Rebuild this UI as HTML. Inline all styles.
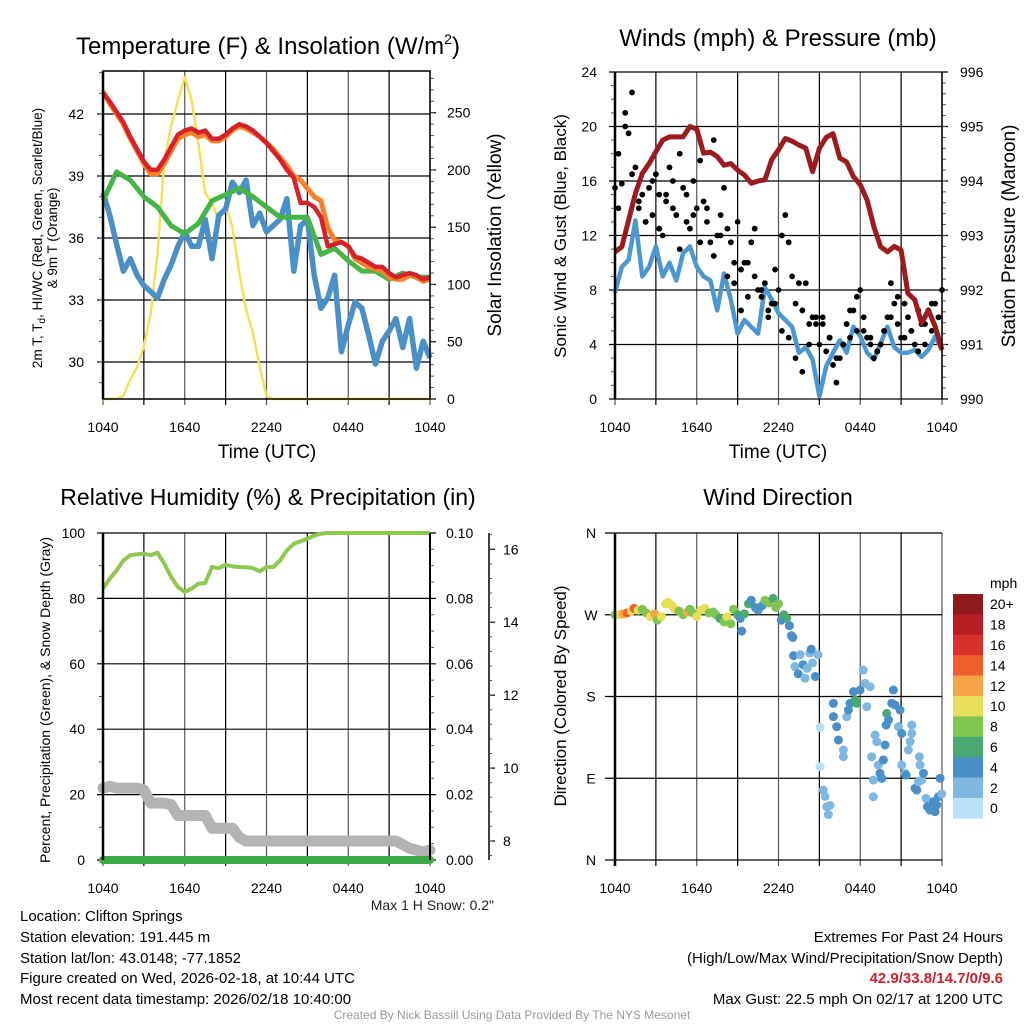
<!DOCTYPE html>
<html><head><meta charset="utf-8">
<style>
html,body{margin:0;padding:0;background:#fff;}
svg{display:block;font-family:"Liberation Sans",Arial,sans-serif;}
</style></head>
<body>
<svg id="chart" width="1024" height="1024" viewBox="0 0 1024 1024" xmlns="http://www.w3.org/2000/svg">
<rect width="1024" height="1024" fill="#fff"/>
<g id="static" font-size="14" fill="#000">
<text x="268" y="54" font-size="24" text-anchor="middle">Temperature (F) &amp; Insolation (W/m<tspan font-size="14" dy="-10">2</tspan><tspan dy="10">)</tspan></text>
<text x="778" y="46" font-size="24" text-anchor="middle">Winds (mph) &amp; Pressure (mb)</text>
<text x="268" y="505" font-size="23" text-anchor="middle">Relative Humidity (%) &amp; Precipitation (in)</text>
<text x="778" y="505" font-size="23" text-anchor="middle">Wind Direction</text>
<text x="267" y="458" font-size="19" text-anchor="middle">Time (UTC)</text>
<text x="778" y="458" font-size="19" text-anchor="middle">Time (UTC)</text>
<text transform="translate(42,238) rotate(-90)" font-size="13.5" text-anchor="middle">2m T, T<tspan font-size="10" dy="3">d</tspan><tspan dy="-3">, HI/WC (Red, Green, Scarlet/Blue)</tspan></text>
<text transform="translate(57,238) rotate(-90)" font-size="13.5" text-anchor="middle">&amp; 9m T (Orange)</text>
<text transform="translate(501,235) rotate(-90)" font-size="19" text-anchor="middle">Solar Insolation (Yellow)</text>
<text transform="translate(566,236) rotate(-90)" font-size="17" text-anchor="middle">Sonic Wind &amp; Gust (Blue, Black)</text>
<text transform="translate(1015,236) rotate(-90)" font-size="19" text-anchor="middle">Station Pressure (Maroon)</text>
<text transform="translate(50,700) rotate(-90)" font-size="14" text-anchor="middle">Percent, Precipitation (Green), &amp; Snow Depth (Gray)</text>
<text transform="translate(566,696) rotate(-90)" font-size="17" text-anchor="middle">Direction (Colored By Speed)</text>
<text x="494" y="910" font-size="14" text-anchor="end" fill="#222">Max 1 H Snow: 0.2"</text>
<text x="20" y="921" font-size="15">Location: Clifton Springs</text>
<text x="20" y="942" font-size="15">Station elevation: 191.445 m</text>
<text x="20" y="963" font-size="15">Station lat/lon: 43.0148; -77.1852</text>
<text x="20" y="983" font-size="15">Figure created on Wed, 2026-02-18, at 10:44 UTC</text>
<text x="20" y="1004" font-size="15">Most recent data timestamp: 2026/02/18 10:40:00</text>
<text x="1003" y="942" font-size="15" text-anchor="end">Extremes For Past 24 Hours</text>
<text x="1003" y="963" font-size="15" text-anchor="end">(High/Low/Max Wind/Precipitation/Snow Depth)</text>
<text x="1003" y="983" font-size="15" font-weight="bold" fill="#d0212a" text-anchor="end">42.9/33.8/14.7/0/9.6</text>
<text x="1003" y="1004" font-size="15" text-anchor="end">Max Gust: 22.5 mph On 02/17 at 1200 UTC</text>
<text x="512" y="1019" font-size="12" fill="#999" text-anchor="middle">Created By Nick Bassill Using Data Provided By The NYS Mesonet</text>
</g>
</svg>
<script>
// ---------- data ----------
const timeLabels = ["1040","1640","2240","0440","1040"];
const tempTicks = [30,33,36,39,42];
const insolTicks = [0,50,100,150,200,250];
const tempRed = [43.0,42.6,42.1,41.6,40.9,40.3,39.7,39.3,39.3,39.8,40.4,41.0,41.2,41.3,41.1,41.2,40.8,40.8,41.0,41.3,41.5,41.4,41.2,40.9,40.6,40.2,39.8,39.3,38.9,37.7,37.7,37.5,37.0,35.6,35.7,35.8,35.6,35.1,35.0,34.8,34.6,34.6,34.3,34.1,34.2,34.3,34.2,34.0,34.1];
const tempOrange = [43.1,42.5,42.0,41.5,40.8,40.2,39.6,39.1,39.1,39.6,40.2,40.8,41.0,41.1,40.9,41.0,40.7,40.7,40.9,41.2,41.4,41.3,41.1,40.9,40.6,40.3,39.9,39.5,39.0,38.8,38.4,38.0,37.8,36.5,35.9,35.8,35.6,35.0,34.8,34.6,34.5,34.4,34.1,34.0,34.0,34.2,34.1,33.9,34.0];
const tempGreen = [37.8,39.2,38.8,38.0,37.5,36.6,36.2,36.7,37.8,38.1,38.4,38.0,37.5,37.0,37.0,37.0,35.2,35.5,34.9,34.4,34.4,34.0,34.3,34.1,34.1];
const tempBlue = [38.2,37.1,35.7,34.4,35.0,34.2,33.7,33.4,33.1,34.0,34.7,35.6,36.3,35.6,35.6,36.9,35.0,37.1,37.4,38.7,38.2,38.8,36.6,37.2,36.3,36.6,36.9,37.9,34.4,36.6,36.9,34.2,32.6,33.1,34.2,30.5,31.8,32.9,32.6,31.3,29.9,31.0,31.5,32.1,30.7,32.1,29.7,31.0,30.2];
const insolation = [0,0,0,3,17,28,46,75,127,208,238,261,281,261,223,180,171,156,170,150,110,78,58,28,3,0,0,0,0,0,0,0,0,0,0,0,0,0,0,0,0,0,0,0,0,0,0,0,0];

const windTicks = [0,4,8,12,16,20,24];
const presTicks = [990,991,992,993,994,995,996];
const pressure = [992.70,992.79,993.28,993.77,994.14,994.32,994.54,994.75,994.81,994.81,994.81,995.0,994.95,994.51,994.53,994.45,994.29,994.32,994.20,994.11,993.96,994.0,994.02,994.39,994.57,994.78,994.73,994.66,994.6,994.17,994.6,994.8,994.87,994.42,994.35,994.08,993.93,993.65,993.16,992.79,992.7,992.8,992.73,991.94,991.82,991.39,991.63,991.33,990.9];
const wind = [7.8,9.7,10.2,13.1,9.0,9.7,11.2,9.0,10.0,8.7,10.7,11.2,9.7,9.0,8.7,6.5,9.2,7.3,4.8,5.8,5.3,4.8,8.2,7.3,6.3,5.8,5.3,3.4,3.8,2.9,0.2,2.4,3.4,4.3,3.4,5.3,4.6,3.4,2.9,4.1,5.3,3.8,3.4,3.4,3.6,3.1,3.6,4.6,3.6];
const gust = [15.5,14.0,15.8,21.0,19.5,22.5,17.0,14.5,15.0,13.0,15.5,13.5,16.5,15.0,12.0,14.5,17.0,16.0,13.5,18.0,15.5,13.0,12.5,16.0,14.0,17.5,14.5,13.0,11.5,19.0,12.0,13.5,15.5,12.5,11.5,10.0,13.0,9.5,10.0,7.5,11.5,9.0,8.0,7.5,8.5,6.5,7.0,9.5,8.0,12.0,13.5,11.5,9.0,7.0,8.5,6.5,8.5,5.5,6.0,5.5,4.0,6.0,3.5,4.5,2.5,1.2,3.0,4.0,5.5,4.5,6.5,5.0,8.0,6.0,4.5,4.0,3.0,3.5,4.0,5.0,6.0,8.5,7.0,5.5,4.5,7.0,6.0,5.0,4.0,3.5,5.5,4.0,6.5,5.0,7.0,6.0,8.0];
const gustB = [18.0,20.0,16.5,14.0,13.0,16.0,12.5,15.0,14.0,11.0,15.0,13.5,11.5,14.0,10.5,12.0,9.0,8.5,6.5,10.0,12.5,8.0,6.0,7.0,5.0,4.5,3.0,2.0,4.0,6.0,5.5,4.5,3.0,4.0,6.5,7.5,5.0,4.5,3.5,5.0,6.0,7.5,4.5,5.0,6.5,5.5,7.0,6.0];

const rhTicks = [0,20,40,60,80,100];
const precipTicks = ["0.00","0.02","0.04","0.06","0.08","0.10"];
const snowTicks = [8,10,12,14,16];
const rh = [83,86,88.6,91.6,93.2,93.5,93.7,93.2,94,90.6,86.6,83.5,82,83,84.5,84.7,89.6,89.2,90.3,89.8,89.6,89.5,89.3,88.3,89.6,89.6,91.6,94.7,96.7,97.5,98.3,99.2,99.8,100,100,100,100,100,100,100,100,100,100,100,100,100,100,100,100];
const precip = [0,0,0,0,0,0,0,0,0,0,0,0,0,0,0,0,0,0,0,0,0,0,0,0,0];
const snow = [9.45,9.5,9.45,9.45,9.45,9.45,9.4,9.04,9.04,9.04,9.0,8.7,8.7,8.7,8.7,8.7,8.35,8.35,8.35,8.35,8.1,8.0,8.0,8.0,8.0,8.0,8.0,8.0,8.0,8.0,8.0,8.0,8.0,8.0,8.0,8.0,8.0,8.0,8.0,8.0,8.0,8.0,8.0,8.0,7.9,7.8,7.75,7.7,7.75];

const dirLabels = ["N","E","S","W","N"];
const speedLabels = ["0","2","4","6","8","10","12","14","16","18","20+"];
const dirT = [0,0.3,0.6,0.9,1.2,1.4,1.7,2.0,2.3,2.6,2.9,3.1,3.4,3.7,3.9,4.2,4.4,4.7,5.0,5.3,5.5,5.7,6.0,6.3,6.6,6.9,7.2,7.4,7.7,8.0,8.2,8.5,8.7,9.0,9.2,9.3,9.5,9.8,10.0,10.3,10.5,10.8,11.0,11.3,11.6,11.8,12.0,12.2,12.4,12.6,12.8,12.95,13.05,13.1,13.2,13.45,13.6,13.8,13.95,14.1,14.3,14.4,14.5,14.7,14.9,15.05,15.05,15.29,15.42,15.54,15.66,15.78,16.03,16.03,16.27,16.4,16.76,16.76,17.01,17.13,17.25,17.5,17.62,17.74,17.99,18.23,18.35,18.48,18.72,18.84,18.96,18.96,19.09,19.21,19.33,19.45,19.58,19.7,19.82,19.9,19.94,20.07,20.31,20.43,20.56,20.8,20.92,21.04,21.04,21.29,21.36,21.53,21.66,21.78,21.78,22.02,22.15,22.27,22.34,22.39,22.51,22.64,22.83,22.93,23.12,23.37,23.49,23.61,23.74,23.86,23.98];
const dirD = [270,270,271,272,274,277,275,276,272,268,271,264,268,282,284,280,276,274,270,273,276,272,268,275,277,272,273,270,266,262,268,260,276,270,266,252,271,282,286,278,275,280,286,283,288,278,282,264,270,266,258,247,245,225,213,205,226,215,200,211,228,232,217,202,226,146,102.7,77,70,58.7,50,60,172.5,157.8,146.8,132.1,121.1,113.7,157.8,165.1,172.5,185.3,176.1,172.5,187.1,209.1,194.5,168.8,190.8,113.7,88,69.7,137.6,130.3,104.6,95.4,89.9,110.1,126.6,148.6,161.4,154.1,172.5,187.1,170.6,146.8,165.1,139.4,104.6,95.4,93.5,121.1,130.3,148.6,139.4,78.9,77,86.2,113.7,104.6,88,95.4,67.9,58.7,55,64.2,53.2,60.5,69.7,89.9,72.6];
const dirS = [8,10,11,13,10,14,9,8,8,9,12,7,10,10,9,9,10,8,8,12,8,8,10,9,10,8,8,7,6,7,10,8,7,6,4,4,6,6,4,4,4,4,8,8,6,8,8,4,6,6,4,4,4,4,2,4,2,4,2,2,2,4,2,4,2,0,0,2,2,2,2,2,4,4,4,4,2,2,2,4,4,4,6,6,4,2,2,2,2,2,2,2,2,2,2,4,4,4,4,4,6,4,4,4,4,2,4,4,2,2,4,2,2,2,2,4,4,2,2,2,2,4,2,4,4,4,4,4,4,4,2];

// ---------- helpers ----------
const NS = "http://www.w3.org/2000/svg";
const svg = document.getElementById('chart');
function mk(tag, attrs, parent){
  const e = document.createElementNS(NS, tag);
  for (const k in attrs) e.setAttribute(k, attrs[k]);
  (parent||svg).appendChild(e);
  return e;
}
function linScale(d0,d1,r0,r1){ return v => r0 + (v-d0)/(d1-d0)*(r1-r0); }
function tOf(i,n){ return i*24/(n-1); }
function pathFrom(arr, xs, ys){
  return arr.map((v,i)=>(i?'L':'M')+xs(tOf(i,arr.length)).toFixed(1)+','+ys(v).toFixed(1)).join(' ');
}
const colorScale = ["#b8e0f6","#7fb7e0","#4a8fc8","#4aa872","#80c552","#e8df58","#f6a447","#ee5f2b","#d8302a","#b81e23","#8e1a1d"];
function spdColor(s){ let i=Math.floor((s+1)/2); if(i<0)i=0; if(i>10)i=10; return colorScale[i]; }

function frame(L,R,T,B,name){
  const g = mk('g',{});
  
  
  for (let k=0;k<=8;k++){
    const x = L + k*(R-L)/8;
    const gl = mk('line',{x1:x,x2:x,y1:T,y2:B+6,stroke:(k%2? '#000':'#555'),'stroke-width':1.2},g);
    
    
  }
  for (let k=0;k<5;k++){
    const x = L + k*(R-L)/4;
    const tl = mk('text',{x:x,y:B+33,'font-size':14,'text-anchor':'middle'},g);
    tl.textContent = timeLabels[k];
    
    
  }
  return g;
}
function hgrid(g,L,R,y,left,right){
  const l = mk('line',{x1:L-(left?6:0),x2:R+(right?6:0),y1:y,y2:y,stroke:'#000','stroke-width':1.2},g);
  
  
}
function label(g,x,y,txt,anchor,name,size){
  const t = mk('text',{x:x,y:y+5,'font-size':size||14,'text-anchor':anchor},g);
  t.textContent = txt;
  
  
  return t;
}
function minor(g,x,y,dir){ mk('line',{x1:x,x2:x+dir*4,y1:y,y2:y,stroke:'#555','stroke-width':1},g); }

// ---------- panel 1 ----------
{
  const L=103,R=430,T=71,B=399;
  const xs = linScale(0,24,L,R);
  const yT = linScale(30,42,362,114);
  const yI = linScale(0,250,399,112.7);
  const g = frame(L,R,T,B,'temperature-panel');
  tempTicks.forEach(v=>{ hgrid(g,L,R,yT(v),true,false); label(g,84,yT(v),String(v),'end','temp-tick-label',14); });
  for(let v=29; v<=44; v++){ if(yT(v)>T && yT(v)<B) minor(g,L,yT(v),-1); }
  insolTicks.forEach(v=>{ mk('line',{x1:R,x2:R+6,y1:yI(v),y2:yI(v),stroke:'#000','stroke-width':1.2},g); label(g,447,yI(v),String(v),'start','insolation-tick-label',14); });
  for(let v=10; v<=280; v+=10){ if(yI(v)>T) minor(g,R,yI(v),1); }
  const yel = mk('path',{d:pathFrom(insolation,xs,yI),fill:'none',stroke:'#f5e05a','stroke-width':2.5,'stroke-linejoin':'round'});
  
  
  const blue = mk('path',{d:pathFrom(tempBlue,xs,yT),fill:'none',stroke:'#4a8fc8','stroke-width':5.5,'stroke-linejoin':'round'});
  
  
  const grn = mk('path',{d:pathFrom(tempGreen,xs,yT),fill:'none',stroke:'#47b447','stroke-width':5,'stroke-linejoin':'round'});
  
  
  const org = mk('path',{d:pathFrom(tempOrange,xs,yT),fill:'none',stroke:'#f5822a','stroke-width':5,'stroke-linejoin':'round'});
  
  
  const red = mk('path',{d:pathFrom(tempRed,xs,yT),fill:'none',stroke:'#d6202a','stroke-width':4.5,'stroke-linejoin':'round'});
  
  
  mk('rect',{x:L,y:T,width:R-L,height:B-T,fill:'none',stroke:'#000','stroke-width':1.5});
  mk('line',{x1:L,x2:L,y1:T,y2:B,stroke:'#000','stroke-width':2.5});
}

// ---------- panel 2 ----------
{
  const L=615,R=942,T=72,B=399;
  const xs = linScale(0,24,L,R);
  const yW = linScale(0,24,B,T);
  const yP = linScale(990,996,B,T);
  const g = frame(L,R,T,B,'wind-panel');
  windTicks.forEach(v=>{ hgrid(g,L,R,yW(v),true,true); label(g,597,yW(v),String(v),'end','wind-tick-label',14); });
  presTicks.forEach(v=>{ label(g,960,yP(v),String(v),'start','pressure-tick-label',14); });
  for(let v=1; v<24; v+=1){ if(v%4) { minor(g,L,yW(v),-1); } }
  for(let v=990.2; v<996; v+=0.2){ minor(g,R,yP(v),1); }
  const bl = mk('path',{d:pathFrom(wind,xs,yW),fill:'none',stroke:'#4d97d1','stroke-width':4.5,'stroke-linejoin':'round'});
  
  
  gust.forEach((v,i)=>{
    const c = mk('circle',{cx:xs(tOf(i,gust.length)),cy:yW(v),r:2.9,fill:'#000'});
    
    
  });
  gustB.forEach((v,i)=>{
    const c = mk('circle',{cx:xs(i*0.5+0.25),cy:yW(v),r:2.9,fill:'#000'});
    
    
  });
  const pr = mk('path',{d:pathFrom(pressure,xs,yP),fill:'none',stroke:'#9b1b1e','stroke-width':5,'stroke-linejoin':'round'});
  
  
  mk('line',{x1:L,x2:L,y1:T,y2:B,stroke:'#000','stroke-width':2.5});
  mk('line',{x1:R,x2:R,y1:T,y2:B,stroke:'#000','stroke-width':1.5});
}

// ---------- panel 3 ----------
{
  const L=103,R=430,T=533,B=860;
  const xs = linScale(0,24,L,R);
  const yR = linScale(0,100,B,T);
  const yPr = linScale(0,0.1,B,T);
  const yS = linScale(8,16,841,549.3);
  const g = frame(L,R,T,B,'humidity-panel');
  rhTicks.forEach((v,i)=>{ hgrid(g,L,R,yR(v),true,true); label(g,85,yR(v),String(v),'end','rh-tick-label',14); label(g,446,yR(v),precipTicks[i],'start','precip-tick-label',14); });
  for(let v=10; v<100; v+=20){ minor(g,L,yR(v),-1); }
  for(let v=5; v<100; v+=5){ if(v%20) minor(g,R,yR(v),1); }
  mk('line',{x1:489,x2:489,y1:T,y2:B,stroke:'#000','stroke-width':1.5});
  snowTicks.forEach(v=>{ mk('line',{x1:489,x2:495,y1:yS(v),y2:yS(v),stroke:'#000','stroke-width':1.2}); label(g,503,yS(v),String(v),'start','snow-tick-label',14); });
  for(let v=7.6; v<16.5; v+=0.4){ mk('line',{x1:489,x2:492,y1:yS(v),y2:yS(v),stroke:'#555','stroke-width':1}); }
  const sn = mk('path',{d:pathFrom(snow,xs,yS),fill:'none',stroke:'#b3b3b3','stroke-width':11,'stroke-linejoin':'round','stroke-linecap':'round'});
  
  
  const pc = mk('path',{d:pathFrom(precip,xs,yPr),fill:'none',stroke:'#3aaa44','stroke-width':8,'stroke-linecap':'round'});
  
  
  const rl = mk('path',{d:pathFrom(rh,xs,yR),fill:'none',stroke:'#8dc94f','stroke-width':4,'stroke-linejoin':'round'});
  
  
  mk('line',{x1:L,x2:L,y1:T,y2:B,stroke:'#000','stroke-width':2.5});
  mk('line',{x1:R,x2:R,y1:T,y2:B,stroke:'#000','stroke-width':2});
}

// ---------- panel 4 ----------
{
  const L=615,R=942,T=533,B=860;
  const xs = linScale(0,24,L,R);
  const yD = linScale(0,360,B,T);
  const g = frame(L,R,T,B,'direction-panel');
  dirLabels.forEach((s,i)=>{ const v=i*90; hgrid(g,L-10,R,yD(v),false,false); label(g,591,yD(v),s,'middle','direction-tick-label',14); });
  dirT.forEach((t,i)=>{
    const c = mk('circle',{cx:xs(t),cy:yD(dirD[i]),r:4.5,fill:spdColor(dirS[i])});
    
    
  });
  mk('line',{x1:L,x2:L,y1:T,y2:B+6,stroke:'#000','stroke-width':2.5});
  const cb = mk('g',{});
  
  
  const top=594, h=20.4;
  for(let k=0;k<11;k++){
    const idx = 10-k;
    const r = mk('rect',{x:953,y:top+k*h,width:30,height:h+0.3,fill:colorScale[idx]},cb);
    
    
    label(cb,990,top+k*h+h/2,speedLabels[idx],'start','colorbar-label',14);
  }
  label(cb,990,583,'mph','start','colorbar-title',14);
}
</script>
</body></html>
